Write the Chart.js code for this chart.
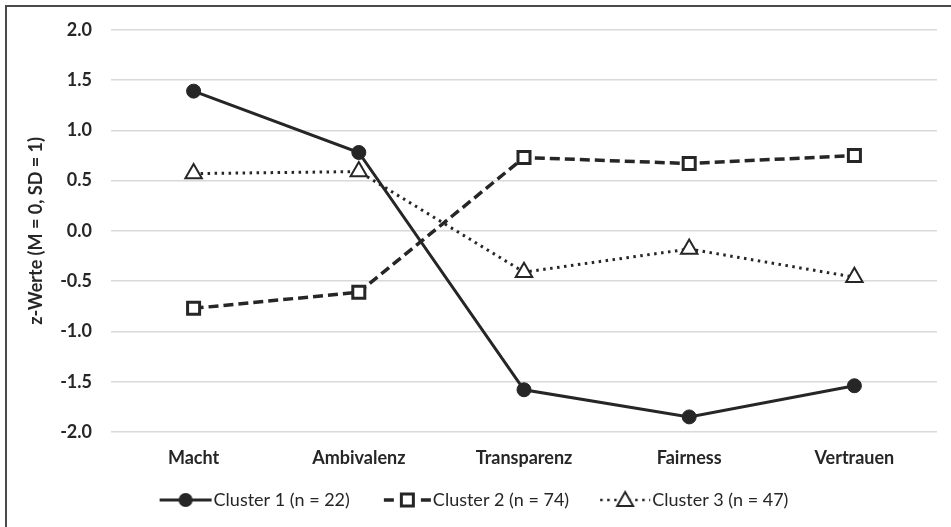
<!DOCTYPE html>
<html>
<head>
<meta charset="utf-8">
<script src="https://cdn.jsdelivr.net/npm/chart.js@4.4.0/dist/chart.umd.min.js"></script>
<style>
  html, body { margin: 0; padding: 0; background: #fff; }
  #frame { position: absolute; left: 5px; top: 5px; width: 2000px; height: 2000px;
           border-left: 2px solid #4a4a4a; border-top: 2px solid #4a4a4a; }
  #wrap { position: absolute; left: 0; top: 0; width: 951px; height: 527px; }
</style>
</head>
<body>
<div id="frame"></div>
<div id="wrap"><canvas id="myChart" width="951" height="527"></canvas></div>
<script>
// categories and cluster means (z-values)
const categories = ['Macht', 'Ambivalenz', 'Transparenz', 'Fairness', 'Vertrauen'];
const cluster1 = [1.39, 0.78, -1.58, -1.85, -1.54];
const cluster2 = [-0.77, -0.61, 0.73, 0.67, 0.75];
const cluster3 = [0.57, 0.59, -0.41, -0.18, -0.46];
const seriesNames = ['Cluster 1 (n = 22)', 'Cluster 2 (n = 74)', 'Cluster 3 (n = 47)'];
const yTicks = [-2.0, -1.5, -1.0, -0.5, 0.0, 0.5, 1.0, 1.5, 2.0];

const ink = '#262626';
const font = 'Lato, "Open Sans", sans-serif';

// legend pictures (line, marker, line); the image is wider than the legend box
// so the symbol can sit right next to the text
function legendSymbol(kind) {
  const c = document.createElement('canvas');
  c.width = 72; c.height = 20;
  const g = c.getContext('2d');
  g.strokeStyle = ink;
  g.fillStyle = ink;
  const cy = 10;
  g.beginPath();
  if (kind === 1) {
    const a = 19, b = 71, cx = (a + b) / 2;
    g.lineWidth = 3;
    g.moveTo(a, cy); g.lineTo(b, cy); g.stroke();
    g.beginPath(); g.arc(cx, cy, 7, 0, Math.PI * 2); g.fill();
  } else if (kind === 2) {
    const a = 24, b = 71, cx = (a + b) / 2;
    g.lineWidth = 3.5;
    g.setLineDash([10, 27]);
    g.moveTo(a, cy); g.lineTo(b, cy); g.stroke();
    g.setLineDash([]);
    g.fillStyle = '#fff';
    g.lineWidth = 3;
    g.fillRect(cx - 6, cy - 6, 12, 12);
    g.strokeRect(cx - 6, cy - 6, 12, 12);
  } else {
    const a = 21, b = 71, cx = (a + b) / 2;
    g.lineWidth = 2.5;
    g.setLineDash([2.5, 4.5]);
    g.moveTo(a, cy); g.lineTo(b, cy); g.stroke();
    g.setLineDash([]);
    g.beginPath();
    g.moveTo(cx, cy - 8); g.lineTo(cx + 8, cy + 6); g.lineTo(cx - 8, cy + 6); g.closePath();
    g.fillStyle = '#fff'; g.fill();
    g.lineWidth = 2; g.stroke();
  }
  return c;
}
const symbols = [legendSymbol(1), legendSymbol(2), legendSymbol(3)];

var ctx = document.getElementById('myChart').getContext('2d');
var chart = new Chart(ctx, {
  type: 'line',
  data: {
    labels: categories,
    datasets: [{
      label: seriesNames[0],
      data: cluster1,
      borderColor: ink,
      backgroundColor: ink,
      borderWidth: 3,
      pointStyle: 'circle',
      pointRadius: 7,
      pointBorderWidth: 1,
      pointBackgroundColor: ink,
      pointBorderColor: ink
    }, {
      label: seriesNames[1],
      data: cluster2,
      borderColor: ink,
      borderWidth: 3.5,
      borderDash: [10, 5],
      pointStyle: 'rect',
      pointRadius: 8.5,
      pointBorderWidth: 3,
      pointBackgroundColor: '#fff',
      pointBorderColor: ink
    }, {
      label: seriesNames[2],
      data: cluster3,
      borderColor: ink,
      borderWidth: 3,
      borderDash: [2.5, 4.5],
      pointStyle: 'triangle',
      pointRadius: 9.5,
      pointBorderWidth: 2,
      pointBackgroundColor: '#fff',
      pointBorderColor: ink
    }]
  },
  options: {
    responsive: false,
    animation: false,
    events: [],
    layout: { padding: { left: 0, right: 14, top: 29, bottom: 8 } },
    plugins: {
      tooltip: { enabled: false },
      legend: {
        position: 'bottom',
        labels: {
          usePointStyle: true,
          pointStyleWidth: 56,
          padding: 18,
          color: ink,
          font: { family: font, size: 18 },
          generateLabels: function (ch) {
            return ch.data.datasets.map(function (ds, i) {
              return { text: ds.label, pointStyle: symbols[i], datasetIndex: i,
                       fillStyle: ink, strokeStyle: ink, lineWidth: 0, fontColor: ink };
            });
          }
        }
      }
    },
    scales: {
      x: {
        offset: true,
        grid: { display: false },
        border: { display: false },
        ticks: { color: ink, padding: 7, font: { family: font, size: 18, weight: 'bold' } },
        afterFit: function (s) { s.height = 41; }
      },
      y: {
        min: -2,
        max: 2,
        afterBuildTicks: function (s) { s.ticks = yTicks.map(v => ({ value: v })); },
        grid: { color: '#d9d9d9', lineWidth: 1.5, drawTicks: false },
        border: { display: false },
        ticks: {
          color: ink, padding: 19,
          font: { family: font, size: 18, weight: 'bold' },
          callback: v => v.toFixed(1)
        },
        title: {
          display: true,
          text: 'z-Werte (M = 0, SD = 1)',
          color: ink,
          padding: { top: 25, bottom: 0 },
          font: { family: font, size: 18, weight: 'bold' }
        },
        afterFit: function (s) { s.width = 111; }
      }
    }
  }
});
</script>
</body>
</html>
